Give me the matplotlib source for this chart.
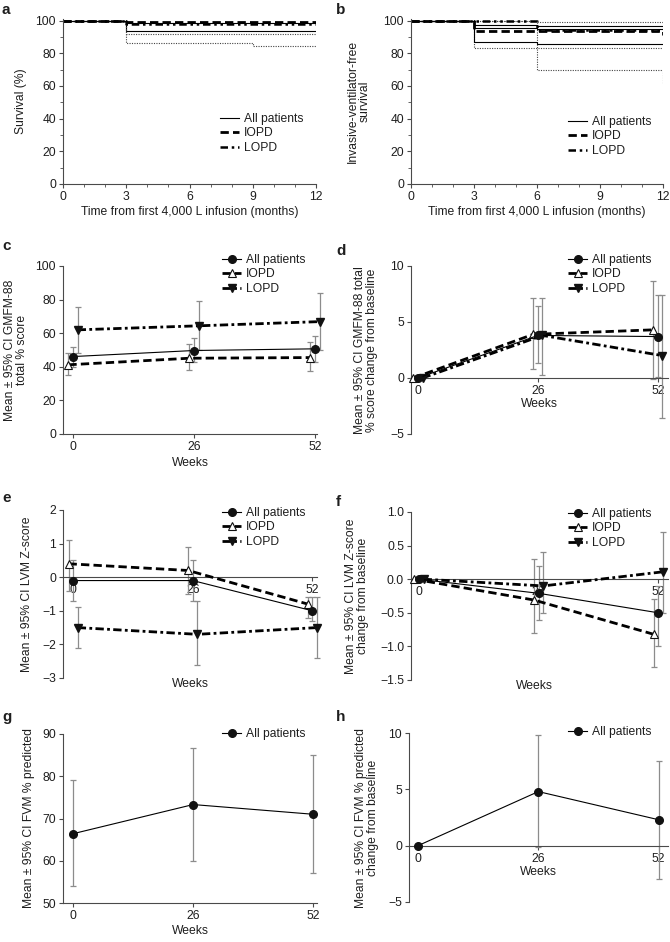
import matplotlib
matplotlib.use("Agg")
import matplotlib.pyplot as plt
from matplotlib.lines import Line2D
from matplotlib.ticker import MultipleLocator

plt.rcParams['font.family'] = ['Liberation Sans', 'DejaVu Sans']

FIG_W, FIG_H = 670, 942
INK = '#1e1e1e'
SPINE = '#4a4a4a'
BAR = '#8c8c8c'
FS = 8.7

# --- a: survival (%) step curves ---
a_months = [0, 3, 9, 12]
a_all = [100, 98.5, 98.5, 98.5]
a_all_low = [100, 93.5, 93.5, 93.5]
a_iopd = [100, 99.3, 99.3, 99.3]
a_iopd_low = [100, 91.7, 91.7, 91.7]
a_lopd = [100, 98.2, 98.2, 98.2]
a_lopd_low = [100, 86.5, 84.4, 84.4]

# --- b: invasive-ventilator-free survival ---
b_months = [0, 3, 6, 12]
b_all = [100, 95.2, 94.6, 94.6]
b_all_up = [100, 97.6, 97.0, 97.0]
b_all_low = [100, 87.0, 85.5, 85.5]
b_iopd = [100, 93.5, 93.5, 91.0]
b_iopd_low = [100, 83.5, 83.5, 83.5]
b_lopd = [100, 100, 94.5, 94.5]
b_lopd_up = [100, 100, 99.2, 99.2]
b_lopd_low = [100, 100, 69.5, 61.0]

weeks = [0, 26, 52]

# --- c: GMFM-88 total % score ---
c_all = [46.1, 49.7, 50.7]
c_all_low = [40.0, 43.0, 43.0]
c_all_high = [52.0, 57.0, 58.4]
c_iopd = [41.2, 45.1, 45.5]
c_iopd_low = [35.0, 38.2, 37.5]
c_iopd_high = [48.0, 53.5, 54.5]
c_lopd = [62.0, 64.4, 66.9]
c_lopd_low = [48.5, 50.0, 50.0]
c_lopd_high = [75.5, 79.0, 84.0]

# --- d: GMFM-88 change from baseline ---
d_all = [0, 3.8, 3.7]
d_all_low = [0, 1.3, 0.1]
d_all_high = [0, 6.4, 7.4]
d_iopd = [0, 3.9, 4.3]
d_iopd_low = [0, 0.8, -0.1]
d_iopd_high = [0, 7.1, 8.7]
d_lopd = [0, 3.8, 2.0]
d_lopd_low = [0, 0.3, -3.6]
d_lopd_high = [0, 7.1, 7.4]

# --- e: LVM Z-score ---
e_all = [-0.1, -0.1, -1.0]
e_all_low = [-0.7, -0.7, -1.3]
e_all_high = [0.5, 0.5, -0.6]
e_iopd = [0.4, 0.2, -0.8]
e_iopd_low = [-0.4, -0.5, -1.2]
e_iopd_high = [1.1, 0.9, -0.6]
e_lopd = [-1.5, -1.7, -1.5]
e_lopd_low = [-2.1, -2.6, -2.4]
e_lopd_high = [-0.9, -0.7, -0.6]

# --- f: LVM Z-score change from baseline ---
f_all = [0, -0.21, -0.5]
f_all_low = [0, -0.6, -1.0]
f_all_high = [0, 0.2, -0.1]
f_iopd = [0, -0.31, -0.82]
f_iopd_low = [0, -0.8, -1.3]
f_iopd_high = [0, 0.3, -0.3]
f_lopd = [0, -0.1, 0.11]
f_lopd_low = [0, -0.5, -0.5]
f_lopd_high = [0, 0.4, 0.7]

# --- g: FVM % predicted ---
g_all = [66.4, 73.3, 71.0]
g_all_low = [54.0, 60.0, 57.2]
g_all_high = [79.0, 86.7, 85.0]

# --- h: FVM % predicted change from baseline ---
h_all = [0, 4.8, 2.3]
h_all_low = [0, -0.1, -3.0]
h_all_high = [0, 9.8, 7.5]

group_labels = ['All patients', 'IOPD', 'LOPD']

ALL_STYLE = dict(color='k', lw=0.8, marker='o', ms=5.5, mfc='#111111', mec='#111111')
IOPD_STYLE = dict(color='k', lw=2.0, dashes=(3, 1.5), marker='^', ms=6,
                  mfc='white', mec='#111111', mew=0.8)
LOPD_STYLE = dict(color='k', lw=2.0, dashes=(3, 1.2, 1, 1.2), marker='v', ms=6,
                  mfc='#111111', mec='#111111')

KM_ALL = dict(color='k', lw=0.8)
KM_IOPD = dict(color='k', lw=2.0, dashes=(3, 1.5))
KM_LOPD = dict(color='k', lw=1.8, dashes=(3, 1.5, 1, 1.5, 1, 1.5))
KM_CI = dict(color='#444444', lw=0.8, dashes=(1, 1.2))


def place(fig, left, right, top, bottom):
    """Add axes using pixel edges of the 670x942 canvas."""
    return fig.add_axes([left / FIG_W, 1 - bottom / FIG_H,
                         (right - left) / FIG_W, (bottom - top) / FIG_H])


def style_axes(ax):
    for side in ('top', 'right'):
        ax.spines[side].set_visible(False)
    for side in ('left', 'bottom'):
        ax.spines[side].set_color(SPINE)
        ax.spines[side].set_linewidth(0.8)
    ax.tick_params(which='major', labelsize=FS, length=3, width=0.8,
                   color=SPINE, labelcolor=INK, pad=2)
    ax.tick_params(which='minor', length=2, width=0.6, color=SPINE)


def add_legend(fig, ax, handles, labels, px, py):
    ax.legend(handles, labels, loc='upper left',
              bbox_to_anchor=(px / FIG_W, 1 - py / FIG_H),
              bbox_transform=fig.transFigure, frameon=False, fontsize=FS,
              handlelength=1.6, handletextpad=0.4, labelspacing=0.2,
              borderpad=0, borderaxespad=0, labelcolor=INK)


def set_ylabel(ax, text, xfrac):
    ax.set_ylabel(text, fontsize=FS, color=INK, linespacing=1.0)
    ax.yaxis.set_label_coords(xfrac, 0.5)


def panel_letter(fig, letter, px, py):
    fig.text(px / FIG_W, 1 - py / FIG_H, letter, fontsize=11, fontweight='bold',
             color=INK, ha='left', va='center')


def draw_series(ax, means, lows, highs, style, dodge):
    x = [w + dodge for w in weeks]
    err = [[m - lo for m, lo in zip(means, lows)],
           [hi - m for m, hi in zip(means, highs)]]
    ax.errorbar(x, means, yerr=err, fmt='none', ecolor=BAR, elinewidth=0.9,
                capsize=2, capthick=0.9, zorder=2, clip_on=False)
    ax.plot(x, means, zorder=3, clip_on=False, **style)


def survival_axes(ax):
    style_axes(ax)
    ax.set_xlim(0, 12)
    ax.set_ylim(0, 101)
    ax.set_xticks([0, 3, 6, 9, 12])
    ax.xaxis.set_minor_locator(MultipleLocator(1))
    ax.set_yticks([0, 20, 40, 60, 80, 100])
    ax.yaxis.set_minor_locator(MultipleLocator(10))
    ax.set_xlabel('Time from first 4,000 L infusion (months)', fontsize=FS,
                  color=INK, labelpad=2)


def plot_a(fig):
    ax = place(fig, 63, 316, 19, 184)
    survival_axes(ax)
    ax.step(a_months, a_all_low, where='post', **KM_ALL)
    ax.step(a_months, a_iopd_low, where='post', **KM_CI)
    ax.step(a_months, a_lopd_low, where='post', **KM_CI)
    ax.step(a_months, a_all, where='post', **KM_ALL)
    ax.step(a_months, a_lopd, where='post', **KM_LOPD)
    ax.step(a_months, a_iopd, where='post', **KM_IOPD)
    handles = [Line2D([], [], **KM_ALL), Line2D([], [], **KM_IOPD),
               Line2D([], [], **KM_LOPD)]
    add_legend(fig, ax, handles, group_labels, 220, 113)
    set_ylabel(ax, 'Survival (%)', -0.142)
    panel_letter(fig, 'a', 2, 10)


def plot_b(fig):
    ax = place(fig, 411, 663, 19, 184)
    survival_axes(ax)
    ax.step(b_months, b_lopd_low, where='post', **KM_CI)
    ax.step(b_months, b_iopd_low, where='post', **KM_CI)
    ax.step(b_months, b_lopd_up, where='post', **KM_CI)
    ax.step(b_months, b_all_low, where='post', **KM_ALL)
    ax.step(b_months, b_all_up, where='post', **KM_ALL)
    ax.step(b_months, b_all, where='post', **KM_ALL)
    ax.step(b_months, b_lopd, where='post', **KM_LOPD)
    ax.step(b_months, b_iopd, where='post', **KM_IOPD)
    handles = [Line2D([], [], **KM_ALL), Line2D([], [], **KM_IOPD),
               Line2D([], [], **KM_LOPD)]
    add_legend(fig, ax, handles, group_labels, 568, 116)
    set_ylabel(ax, 'Invasive-ventilator-free\nsurvival', -0.159)
    panel_letter(fig, 'b', 336, 10)


def weeks_axes(ax, xlim, zero_spine=False):
    style_axes(ax)
    ax.set_xlim(*xlim)
    ax.set_xticks(weeks)
    if zero_spine:
        ax.spines['bottom'].set_position(('data', 0))


def three_group_handles():
    return [Line2D([], [], **ALL_STYLE), Line2D([], [], **IOPD_STYLE),
            Line2D([], [], **LOPD_STYLE)]


def plot_c(fig):
    ax = place(fig, 63, 317, 266, 434)
    weeks_axes(ax, (-2.15, 52.4))
    ax.set_ylim(0, 100)
    ax.set_yticks([0, 20, 40, 60, 80, 100])
    draw_series(ax, c_iopd, c_iopd_low, c_iopd_high, IOPD_STYLE, -1)
    draw_series(ax, c_lopd, c_lopd_low, c_lopd_high, LOPD_STYLE, 1)
    draw_series(ax, c_all, c_all_low, c_all_high, ALL_STYLE, 0)
    ax.set_xlabel('Weeks', fontsize=FS, color=INK, labelpad=3)
    add_legend(fig, ax, three_group_handles(), group_labels, 222, 254)
    set_ylabel(ax, 'Mean \u00b1 95% CI GMFM-88\ntotal % score', -0.138)
    panel_letter(fig, 'c', 2, 246)


def plot_d(fig):
    ax = place(fig, 411, 668, 266, 434)
    weeks_axes(ax, (-1.5, 54.2), zero_spine=True)
    ax.set_ylim(-5, 10)
    ax.set_yticks([-5, 0, 5, 10])
    draw_series(ax, d_iopd, d_iopd_low, d_iopd_high, IOPD_STYLE, -1)
    draw_series(ax, d_lopd, d_lopd_low, d_lopd_high, LOPD_STYLE, 1)
    draw_series(ax, d_all, d_all_low, d_all_high, ALL_STYLE, 0)
    ax.set_xlabel('Weeks', fontsize=FS, color=INK, labelpad=1)
    add_legend(fig, ax, three_group_handles(), group_labels, 568, 254)
    set_ylabel(ax, 'Mean \u00b1 95% CI GMFM-88 total\n% score change from baseline', -0.128)
    panel_letter(fig, 'd', 336, 251)


def plot_e(fig):
    ax = place(fig, 63, 317, 510, 678)
    weeks_axes(ax, (-2.2, 53.0), zero_spine=True)
    ax.set_ylim(-3, 2)
    ax.set_yticks([-3, -2, -1, 0, 1, 2])
    draw_series(ax, e_iopd, e_iopd_low, e_iopd_high, IOPD_STYLE, -1)
    draw_series(ax, e_lopd, e_lopd_low, e_lopd_high, LOPD_STYLE, 1)
    draw_series(ax, e_all, e_all_low, e_all_high, ALL_STYLE, 0)
    ax.set_xlabel('Weeks', fontsize=FS, color=INK)
    ax.xaxis.set_label_coords(0.5, 0.0)
    add_legend(fig, ax, three_group_handles(), group_labels, 222, 507)
    set_ylabel(ax, 'Mean \u00b1 95% CI LVM Z-score', -0.118)
    panel_letter(fig, 'e', 2, 498)


def plot_f(fig):
    ax = place(fig, 411, 668, 512, 680)
    weeks_axes(ax, (-1.74, 54.1), zero_spine=True)
    ax.set_ylim(-1.5, 1.0)
    ax.set_yticks([-1.5, -1.0, -0.5, 0.0, 0.5, 1.0])
    draw_series(ax, f_iopd, f_iopd_low, f_iopd_high, IOPD_STYLE, -1)
    draw_series(ax, f_lopd, f_lopd_low, f_lopd_high, LOPD_STYLE, 1)
    draw_series(ax, f_all, f_all_low, f_all_high, ALL_STYLE, 0)
    ax.set_xlabel('Weeks', fontsize=FS, color=INK)
    ax.xaxis.set_label_coords(0.48, 0.0)
    add_legend(fig, ax, three_group_handles(), group_labels, 568, 508)
    set_ylabel(ax, 'Mean \u00b1 95% CI LVM Z-score\nchange from baseline', -0.163)
    panel_letter(fig, 'f', 336, 502)


def plot_g(fig):
    ax = place(fig, 63, 317, 734, 903)
    weeks_axes(ax, (-2.17, 52.8))
    ax.set_ylim(50, 90)
    ax.set_yticks([50, 60, 70, 80, 90])
    draw_series(ax, g_all, g_all_low, g_all_high, ALL_STYLE, 0)
    ax.set_xlabel('Weeks', fontsize=FS, color=INK, labelpad=2)
    add_legend(fig, ax, [Line2D([], [], **ALL_STYLE)], group_labels[:1], 222, 728)
    set_ylabel(ax, 'Mean \u00b1 95% CI FVM % predicted', -0.11)
    panel_letter(fig, 'g', 2, 717)


def plot_h(fig):
    ax = place(fig, 409, 668, 733, 902)
    weeks_axes(ax, (-1.94, 54.0), zero_spine=True)
    ax.set_ylim(-5, 10)
    ax.set_yticks([-5, 0, 5, 10])
    draw_series(ax, h_all, h_all_low, h_all_high, ALL_STYLE, 0)
    ax.set_xlabel('Weeks', fontsize=FS, color=INK, labelpad=1)
    add_legend(fig, ax, [Line2D([], [], **ALL_STYLE)], group_labels[:1], 568, 726)
    set_ylabel(ax, 'Mean \u00b1 95% CI FVM % predicted\nchange from baseline', -0.116)
    panel_letter(fig, 'h', 336, 717)


def main():
    fig = plt.figure(figsize=(FIG_W / 100, FIG_H / 100), dpi=100)
    plot_a(fig)
    plot_b(fig)
    plot_c(fig)
    plot_d(fig)
    plot_e(fig)
    plot_f(fig)
    plot_g(fig)
    plot_h(fig)
    fig.savefig('out.png', dpi=100, facecolor='white')


if __name__ == "__main__":
    main()
